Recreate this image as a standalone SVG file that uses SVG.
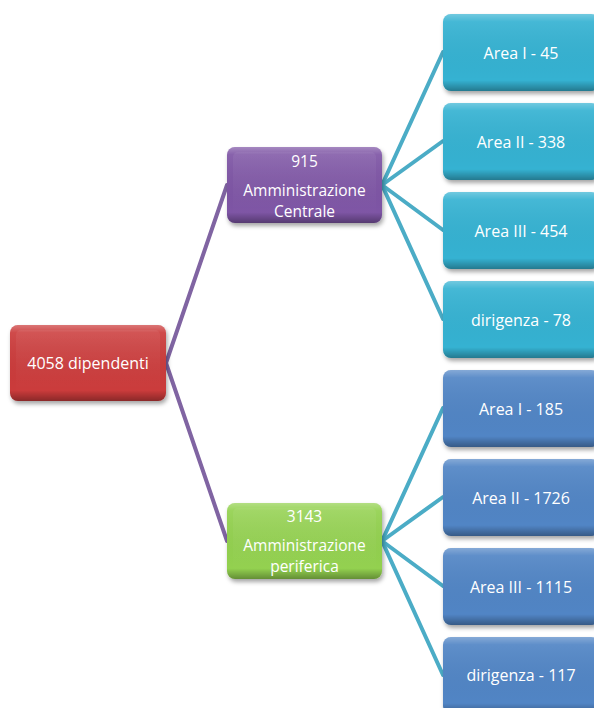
<svg xmlns="http://www.w3.org/2000/svg" width="594" height="708" viewBox="0 0 594 708">
<style>
.lbl{font-family:"Open Sans","Liberation Sans",sans-serif;font-size:16px;fill:#fff;text-anchor:middle;dominant-baseline:central}
.sm{font-size:15.5px}
.c1{stroke:#8064A2;stroke-width:4;fill:none;stroke-linecap:round}
.c2{stroke:#4BACC6;stroke-width:4;fill:none;stroke-linecap:round}
.gl{fill:url(#gloss)}
</style>
<defs>
<filter id="sh" x="-10%" y="-10%" width="130%" height="140%">
<feDropShadow dx="1.5" dy="3" stdDeviation="2" flood-color="#000" flood-opacity="0.35"/>
</filter>
<linearGradient id="gloss" x1="0" y1="0" x2="0" y2="1">
<stop offset="0" stop-color="#fff" stop-opacity="0.3"/>
<stop offset="0.1" stop-color="#fff" stop-opacity="0.08"/>
<stop offset="0.86" stop-color="#000" stop-opacity="0"/>
<stop offset="1" stop-color="#000" stop-opacity="0.32"/>
</linearGradient>
<linearGradient id="inner" x1="0" y1="0" x2="0" y2="1">
<stop offset="0" stop-color="#fff" stop-opacity="0.06"/>
<stop offset="1" stop-color="#fff" stop-opacity="0"/>
</linearGradient>
</defs>

<g id="connectors">
<line class="c1" x1="166" y1="363" x2="227" y2="185"/>
<line class="c1" x1="166" y1="363" x2="227" y2="541"/>
<line class="c2" x1="382" y1="185" x2="443" y2="52"/>
<line class="c2" x1="382" y1="185" x2="443" y2="141"/>
<line class="c2" x1="382" y1="185" x2="443" y2="230"/>
<line class="c2" x1="382" y1="185" x2="443" y2="319"/>
<line class="c2" x1="382" y1="541" x2="443" y2="408"/>
<line class="c2" x1="382" y1="541" x2="443" y2="497"/>
<line class="c2" x1="382" y1="541" x2="443" y2="586"/>
<line class="c2" x1="382" y1="541" x2="443" y2="675"/>
</g>

<g id="root">
<rect x="10" y="325" width="156" height="76" rx="8" fill="#CB3A3A" filter="url(#sh)"/>
<rect x="10" y="325" width="156" height="76" rx="8" class="gl"/>
<rect x="16" y="330" width="144" height="65" rx="5" fill="url(#inner)"/>
<text class="lbl" x="88" y="363">4058 dipendenti</text>
</g>

<g id="central">
<rect x="227" y="147" width="155" height="76" rx="8" fill="#7E55A5" filter="url(#sh)"/>
<rect x="227" y="147" width="155" height="76" rx="8" class="gl"/>
<rect x="233" y="152" width="143" height="65" rx="5" fill="url(#inner)"/>
<text class="lbl sm" x="304.5" y="161">915</text>
<text class="lbl sm" x="304.5" y="189.5">Amministrazione</text>
<text class="lbl sm" x="304.5" y="211">Centrale</text>
</g>

<g id="periferica">
<rect x="227" y="503" width="155" height="76" rx="8" fill="#93D150" filter="url(#sh)"/>
<rect x="227" y="503" width="155" height="76" rx="8" class="gl"/>
<rect x="233" y="508" width="143" height="65" rx="5" fill="url(#inner)"/>
<text class="lbl sm" x="304.5" y="516">3143</text>
<text class="lbl sm" x="304.5" y="544.5">Amministrazione</text>
<text class="lbl sm" x="304.5" y="566">periferica</text>
</g>

<g id="c-area1">
<rect x="443" y="14" width="156" height="77" rx="8" fill="#34B2D2" filter="url(#sh)"/>
<rect x="443" y="14" width="156" height="77" rx="8" class="gl"/>
<text class="lbl" x="521" y="52.5">Area I - 45</text>
</g>
<g id="c-area2">
<rect x="443" y="103" width="156" height="77" rx="8" fill="#34B2D2" filter="url(#sh)"/>
<rect x="443" y="103" width="156" height="77" rx="8" class="gl"/>
<text class="lbl" x="521" y="141.5">Area II - 338</text>
</g>
<g id="c-area3">
<rect x="443" y="192" width="156" height="77" rx="8" fill="#34B2D2" filter="url(#sh)"/>
<rect x="443" y="192" width="156" height="77" rx="8" class="gl"/>
<text class="lbl" x="521" y="230.5">Area III - 454</text>
</g>
<g id="c-dir">
<rect x="443" y="281" width="156" height="77" rx="8" fill="#34B2D2" filter="url(#sh)"/>
<rect x="443" y="281" width="156" height="77" rx="8" class="gl"/>
<text class="lbl" x="521" y="319.5">dirigenza - 78</text>
</g>

<g id="p-area1">
<rect x="443" y="370" width="156" height="77" rx="8" fill="#5185C5" filter="url(#sh)"/>
<rect x="443" y="370" width="156" height="77" rx="8" class="gl"/>
<text class="lbl" x="521" y="408.5">Area I - 185</text>
</g>
<g id="p-area2">
<rect x="443" y="459" width="156" height="77" rx="8" fill="#5185C5" filter="url(#sh)"/>
<rect x="443" y="459" width="156" height="77" rx="8" class="gl"/>
<text class="lbl" x="521" y="497.5">Area II - 1726</text>
</g>
<g id="p-area3">
<rect x="443" y="548" width="156" height="77" rx="8" fill="#5185C5" filter="url(#sh)"/>
<rect x="443" y="548" width="156" height="77" rx="8" class="gl"/>
<text class="lbl" x="521" y="586.5">Area III - 1115</text>
</g>
<g id="p-dir">
<rect x="443" y="637" width="156" height="77" rx="8" fill="#5185C5" filter="url(#sh)"/>
<rect x="443" y="637" width="156" height="77" rx="8" class="gl"/>
<text class="lbl" x="521" y="674.5">dirigenza - 117</text>
</g>
</svg>
